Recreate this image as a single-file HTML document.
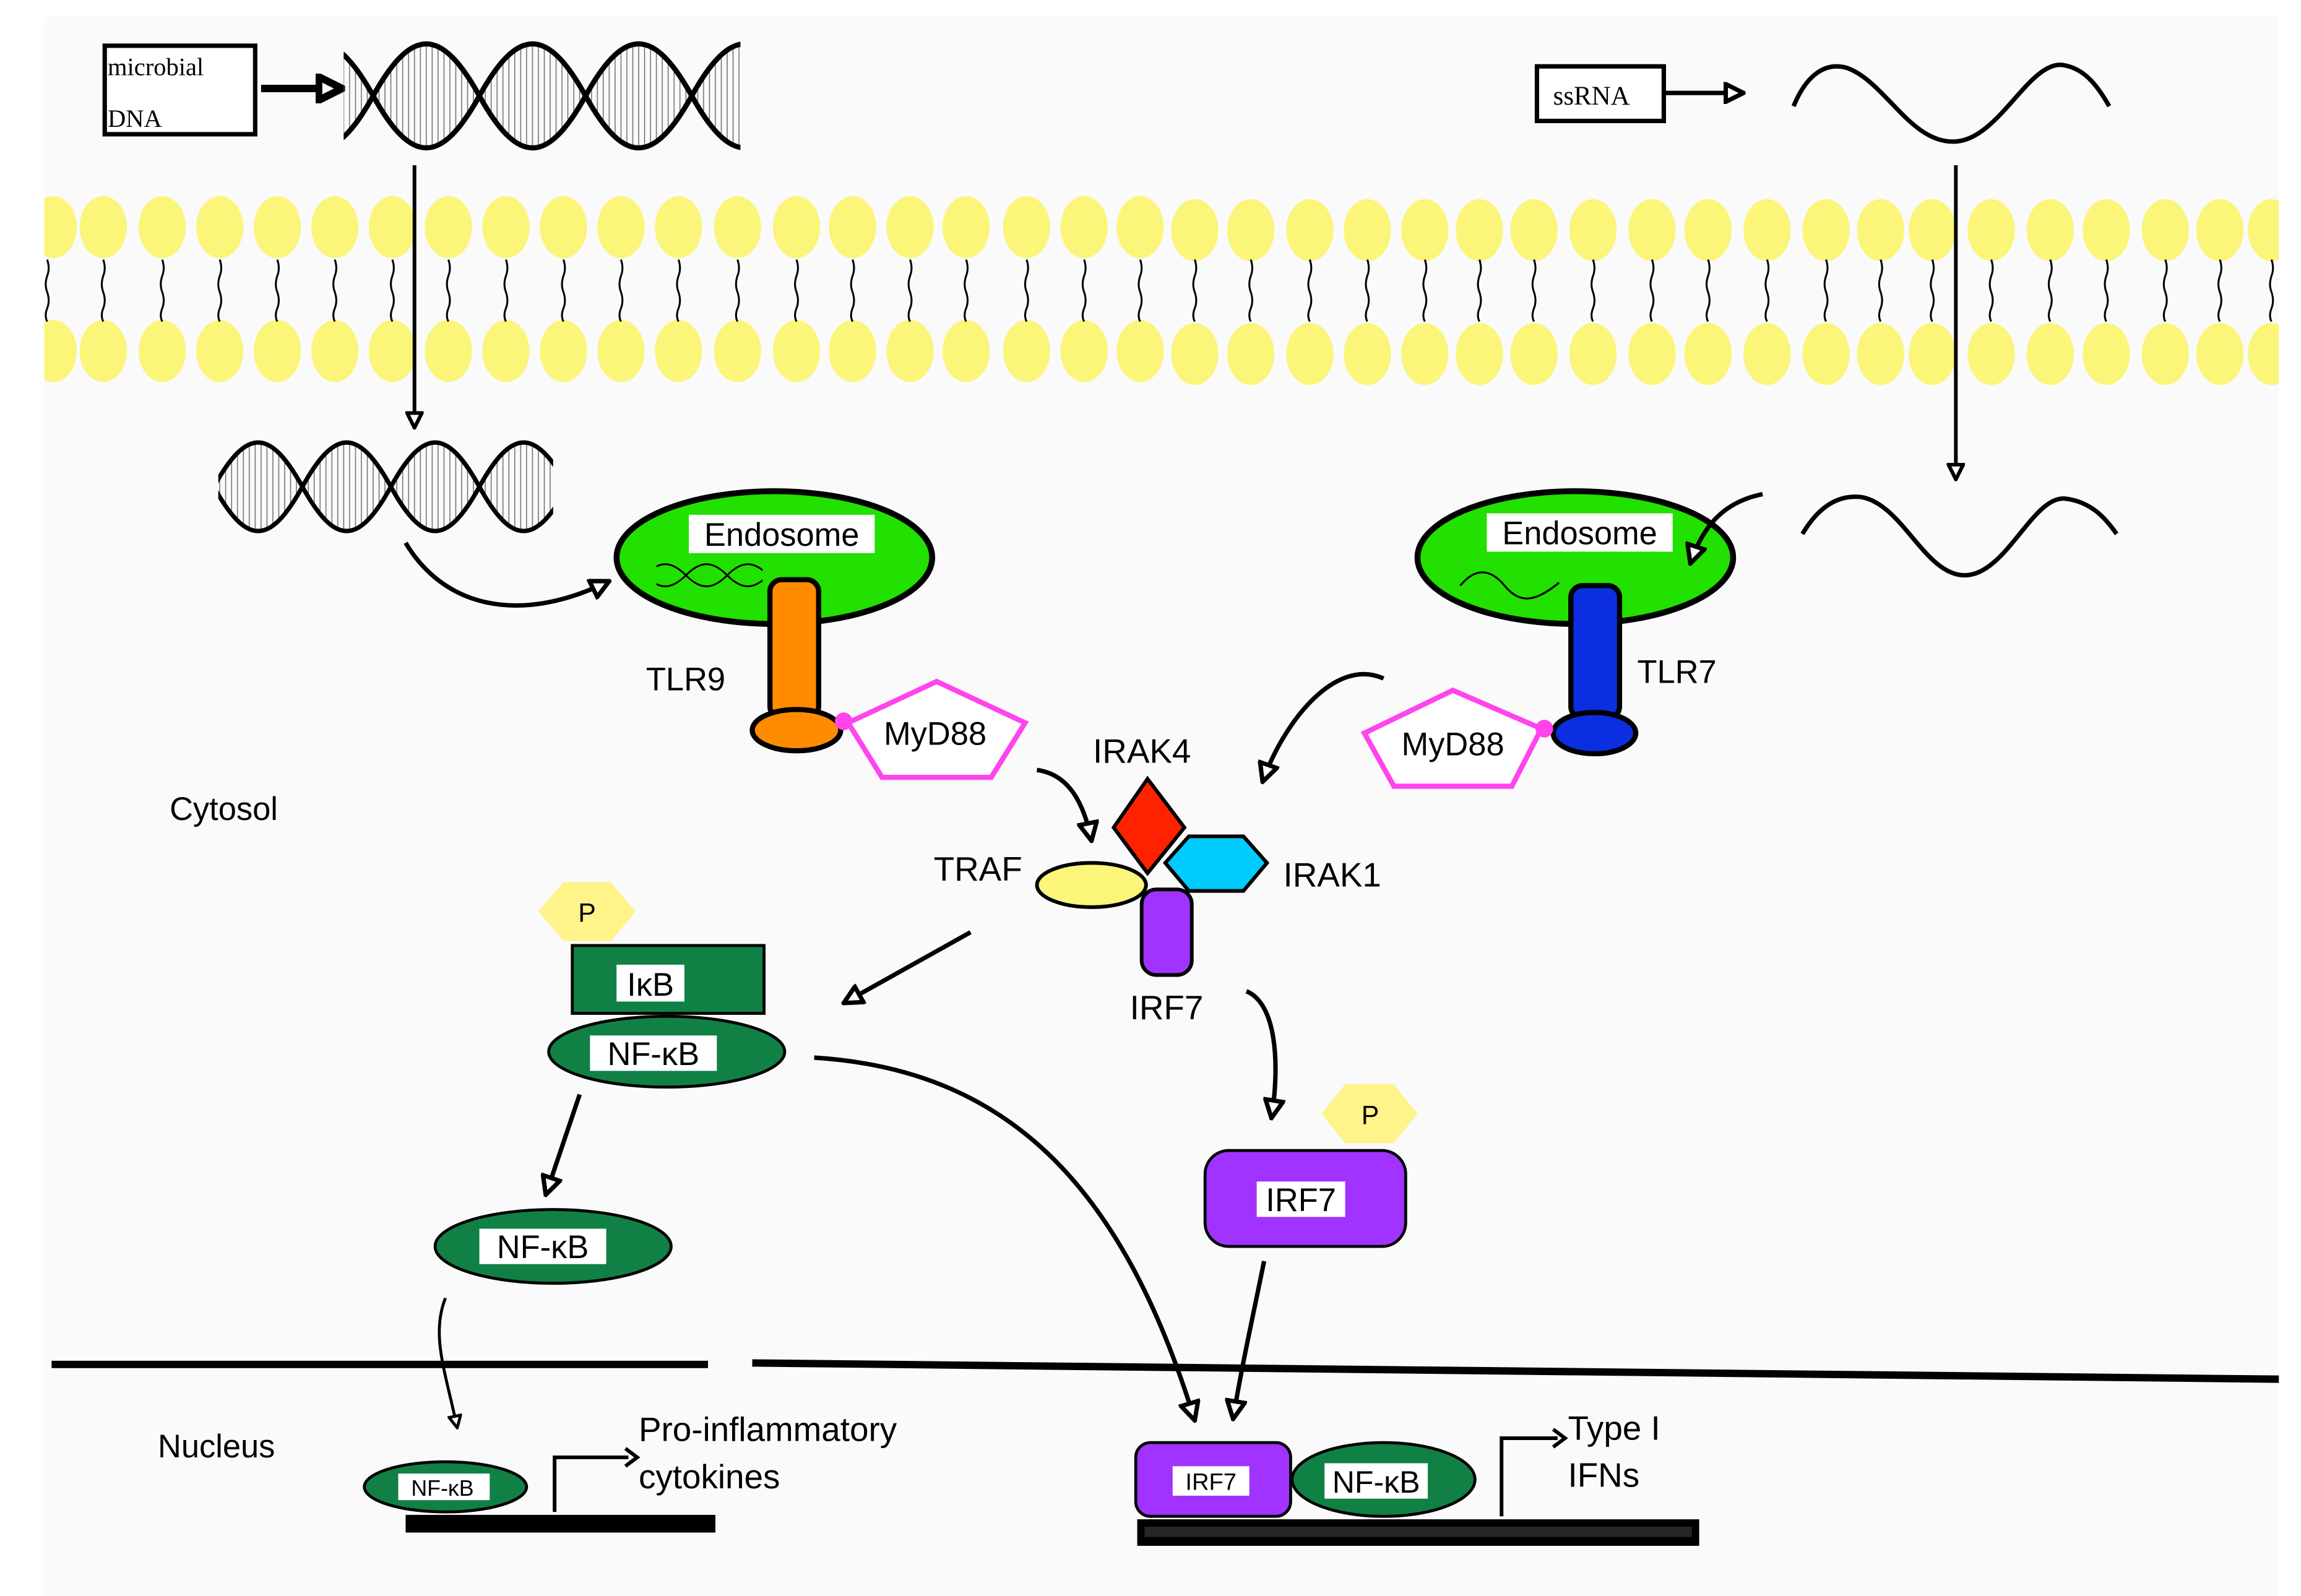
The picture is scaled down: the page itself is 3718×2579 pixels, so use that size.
<!DOCTYPE html>
<html><head><meta charset="utf-8"><style>
html,body{margin:0;padding:0;background:#fff;}
svg{display:block;}
text{font-family:"Liberation Sans",sans-serif;}
</style></head><body>
<svg width="3718" height="2579" viewBox="0 0 1560 1082" preserveAspectRatio="none" xmlns="http://www.w3.org/2000/svg">
<defs>
<pattern id="hatch" width="4" height="10" patternUnits="userSpaceOnUse"><line x1="1" y1="0" x2="1" y2="10" stroke="#666" stroke-width="0.6"/></pattern>
<marker id="oa" viewBox="0 0 10 10" refX="9" refY="5" markerWidth="5" markerHeight="5" orient="auto" markerUnits="strokeWidth"><path d="M1,1 L9,5 L1,9 Z" fill="#fff" stroke="#000" stroke-width="2"/></marker>
<marker id="oa2" viewBox="0 0 10 10" refX="9" refY="5" markerWidth="4" markerHeight="4" orient="auto" markerUnits="strokeWidth"><path d="M1,1 L9,5 L1,9 Z" fill="#fff" stroke="#000" stroke-width="2.5"/></marker>
<clipPath id="c1"><rect x="233" y="25" width="269" height="85"/></clipPath>
<clipPath id="c2"><rect x="148" y="295" width="227" height="70"/></clipPath>
<clipPath id="c3"><rect x="445" y="375" width="72" height="30"/></clipPath>
<clipPath id="cm"><rect x="30" y="120" width="1515" height="150"/></clipPath>
</defs>
<rect x="30" y="11" width="1515" height="1074" fill="#fafafa"/>

<!-- membrane -->
<g clip-path="url(#cm)">
<g fill="#fbf57a">
<g id="row">
<ellipse cx="36" cy="154" rx="16" ry="21"/><ellipse cx="70" cy="154" rx="16" ry="21"/><ellipse cx="110" cy="154" rx="16" ry="21"/><ellipse cx="149" cy="154" rx="16" ry="21"/><ellipse cx="188" cy="154" rx="16" ry="21"/><ellipse cx="227" cy="154" rx="16" ry="21"/><ellipse cx="266" cy="154" rx="16" ry="21"/><ellipse cx="304" cy="154" rx="16" ry="21"/><ellipse cx="343" cy="154" rx="16" ry="21"/><ellipse cx="382" cy="154" rx="16" ry="21"/><ellipse cx="421" cy="154" rx="16" ry="21"/><ellipse cx="460" cy="154" rx="16" ry="21"/><ellipse cx="500" cy="154" rx="16" ry="21"/><ellipse cx="540" cy="154" rx="16" ry="21"/><ellipse cx="578" cy="154" rx="16" ry="21"/><ellipse cx="617" cy="154" rx="16" ry="21"/><ellipse cx="655" cy="154" rx="16" ry="21"/><ellipse cx="696" cy="154" rx="16" ry="21"/><ellipse cx="735" cy="154" rx="16" ry="21"/><ellipse cx="773" cy="154" rx="16" ry="21"/><ellipse cx="810" cy="156" rx="16" ry="21"/><ellipse cx="848" cy="156" rx="16" ry="21"/><ellipse cx="888" cy="156" rx="16" ry="21"/><ellipse cx="927" cy="156" rx="16" ry="21"/><ellipse cx="966" cy="156" rx="16" ry="21"/><ellipse cx="1003" cy="156" rx="16" ry="21"/><ellipse cx="1040" cy="156" rx="16" ry="21"/><ellipse cx="1080" cy="156" rx="16" ry="21"/><ellipse cx="1120" cy="156" rx="16" ry="21"/><ellipse cx="1158" cy="156" rx="16" ry="21"/><ellipse cx="1198" cy="156" rx="16" ry="21"/><ellipse cx="1238" cy="156" rx="16" ry="21"/><ellipse cx="1275" cy="156" rx="16" ry="21"/><ellipse cx="1310" cy="156" rx="16" ry="21"/><ellipse cx="1350" cy="156" rx="16" ry="21"/><ellipse cx="1390" cy="156" rx="16" ry="21"/><ellipse cx="1428" cy="156" rx="16" ry="21"/><ellipse cx="1468" cy="156" rx="16" ry="21"/><ellipse cx="1505" cy="156" rx="16" ry="21"/><ellipse cx="1540" cy="156" rx="16" ry="21"/>
</g>
<use href="#row" transform="translate(0,84)"/>
</g>
<g stroke="#000" stroke-width="1.3" fill="none">
<path id="tl" d="M0,176 q2,6 0,11 q-2,6 0,11 q2,6 0,11 q-2,5 0,9" transform="translate(-100,0)"/>
<use href="#tl" x="132"/><use href="#tl" x="170"/><use href="#tl" x="210"/><use href="#tl" x="249"/><use href="#tl" x="288"/><use href="#tl" x="327"/><use href="#tl" x="366"/><use href="#tl" x="404"/><use href="#tl" x="443"/><use href="#tl" x="482"/><use href="#tl" x="521"/><use href="#tl" x="560"/><use href="#tl" x="600"/><use href="#tl" x="640"/><use href="#tl" x="678"/><use href="#tl" x="717"/><use href="#tl" x="755"/><use href="#tl" x="796"/><use href="#tl" x="835"/><use href="#tl" x="873"/><use href="#tl" x="910"/><use href="#tl" x="948"/><use href="#tl" x="988"/><use href="#tl" x="1027"/><use href="#tl" x="1066"/><use href="#tl" x="1103"/><use href="#tl" x="1140"/><use href="#tl" x="1180"/><use href="#tl" x="1220"/><use href="#tl" x="1258"/><use href="#tl" x="1298"/><use href="#tl" x="1338"/><use href="#tl" x="1375"/><use href="#tl" x="1410"/><use href="#tl" x="1450"/><use href="#tl" x="1490"/><use href="#tl" x="1528"/><use href="#tl" x="1568"/><use href="#tl" x="1605"/><use href="#tl" x="1640"/>
</g>
</g>

<!-- microbial DNA box -->
<rect x="71" y="31" width="102" height="60" fill="#fff" stroke="#000" stroke-width="3"/>
<text x="73" y="51" font-size="17" style="font-family:'Liberation Serif',serif">microbial</text>
<text x="73" y="86" font-size="17" style="font-family:'Liberation Serif',serif">DNA</text>
<line x1="177" y1="60" x2="232" y2="60" stroke="#000" stroke-width="5" marker-end="url(#oa2)"/>

<!-- helix 1 -->
<g clip-path="url(#c1)">
<path d="M181,65 C207,112 227,112 253,65 C279,18 299,18 325,65 C351,112 371,112 397,65 C423,18 443,18 469,65 C495,112 515,112 541,65 C515,18 495,18 469,65 C443,112 423,112 397,65 C371,18 351,18 325,65 C299,112 279,112 253,65 C227,18 207,18 181,65Z" fill="url(#hatch)" fill-rule="evenodd"/>
<path d="M181,65 C207,112 227,112 253,65 C279,18 299,18 325,65 C351,112 371,112 397,65 C423,18 443,18 469,65 C495,112 515,112 541,65" fill="none" stroke="#000" stroke-width="3.5"/>
<path d="M181,65 C207,18 227,18 253,65 C279,112 299,112 325,65 C351,18 371,18 397,65 C423,112 443,112 469,65 C495,18 515,18 541,65" fill="none" stroke="#000" stroke-width="3.5"/>
</g>

<!-- ssRNA -->
<rect x="1042" y="45" width="86" height="37" fill="#fff" stroke="#000" stroke-width="3"/>
<text x="1053" y="71" font-size="18" style="font-family:'Liberation Serif',serif">ssRNA</text>
<line x1="1128" y1="63" x2="1182" y2="63" stroke="#000" stroke-width="3" marker-end="url(#oa)"/>
<path d="M1216,72 C1225,50 1238,42 1252,46 C1278,55 1295,97 1325,96 C1355,95 1375,42 1398,44 C1413,46 1422,58 1430,72" fill="none" stroke="#000" stroke-width="3"/>
<path d="M1222,362 C1232,345 1245,335 1262,337 C1290,342 1305,390 1332,390 C1360,390 1378,336 1400,338 C1418,340 1428,352 1435,362" fill="none" stroke="#000" stroke-width="3"/>

<!-- vertical arrows -->
<line x1="281" y1="112" x2="281" y2="290" stroke="#000" stroke-width="2.5" marker-end="url(#oa)"/>
<line x1="1326" y1="112" x2="1326" y2="325" stroke="#000" stroke-width="2.5" marker-end="url(#oa)"/>

<!-- helix 2 -->
<g clip-path="url(#c2)">
<path d="M145,330 C167,370 183,370 205,330 C227,290 243,290 265,330 C287,370 303,370 325,330 C347,290 363,290 385,330 C363,370 347,370 325,330 C303,290 287,290 265,330 C243,370 227,370 205,330 C183,290 167,290 145,330Z" fill="url(#hatch)" fill-rule="evenodd"/>
<path d="M145,330 C167,370 183,370 205,330 C227,290 243,290 265,330 C287,370 303,370 325,330 C347,290 363,290 385,330" fill="none" stroke="#000" stroke-width="3"/>
<path d="M145,330 C167,290 183,290 205,330 C227,370 243,370 265,330 C287,290 303,290 325,330 C347,370 363,370 385,330" fill="none" stroke="#000" stroke-width="3"/>
</g>

<!-- Left endosome -->
<ellipse cx="525" cy="378" rx="107" ry="45" fill="#22e000" stroke="#000" stroke-width="4"/>
<rect x="467" y="349" width="126" height="26" fill="#fff"/>
<text x="530" y="370" font-size="22" text-anchor="middle">Endosome</text>
<g clip-path="url(#c3)">
<path d="M437,390 C447,400 455,400 465,390 C475,380 483,380 493,390 C503,400 511,400 521,390 M437,390 C447,380 455,380 465,390 C475,400 483,400 493,390 C503,380 511,380 521,390" fill="none" stroke="#000" stroke-width="1.2"/>
</g>
<rect x="522" y="393" width="33" height="94" rx="8" fill="#ff8c00" stroke="#000" stroke-width="3.5"/>
<ellipse cx="540" cy="495" rx="30" ry="14" fill="#ff8c00" stroke="#000" stroke-width="3.5"/>
<text x="438" y="468" font-size="22">TLR9</text>
<polygon points="575,490 635,462 695,490 672,527 598,527" fill="#fff" stroke="#ff44ee" stroke-width="3.5"/>
<circle cx="572" cy="489" r="6" fill="#ff44ee"/>
<text x="634" y="505" font-size="22" text-anchor="middle">MyD88</text>

<!-- Right endosome -->
<ellipse cx="1068" cy="378" rx="107" ry="45" fill="#22e000" stroke="#000" stroke-width="4"/>
<rect x="1008" y="348" width="126" height="26" fill="#fff"/>
<text x="1071" y="369" font-size="22" text-anchor="middle">Endosome</text>
<path d="M990,397 C1000,385 1010,385 1020,397 C1030,409 1040,409 1057,395" fill="none" stroke="#000" stroke-width="1.3"/>
<rect x="1065" y="397" width="33" height="90" rx="8" fill="#0a2ee0" stroke="#000" stroke-width="3.5"/>
<ellipse cx="1081" cy="497" rx="28" ry="14" fill="#0a2ee0" stroke="#000" stroke-width="3.5"/>
<text x="1110" y="463" font-size="22">TLR7</text>
<polygon points="925,497 985,468 1045,494 1025,533 945,533" fill="#fff" stroke="#ff44ee" stroke-width="3.5"/>
<circle cx="1047" cy="494" r="6" fill="#ff44ee"/>
<text x="985" y="512" font-size="22" text-anchor="middle">MyD88</text>

<!-- curved arrows top (drawn on top) -->
<path d="M275,368 C300,410 350,425 413,394" fill="none" stroke="#000" stroke-width="3" marker-end="url(#oa)"/>
<path d="M1195,335 C1170,340 1155,355 1146,382" fill="none" stroke="#000" stroke-width="3" marker-end="url(#oa)"/>
<path d="M938,460 C905,445 870,490 856,530" fill="none" stroke="#000" stroke-width="3" marker-end="url(#oa)"/>
<path d="M703,522 C725,525 735,545 740,570" fill="none" stroke="#000" stroke-width="3" marker-end="url(#oa)"/>

<!-- Complex -->
<text x="741" y="517" font-size="23">IRAK4</text>
<polygon points="778,528 803,561 778,592 755,561" fill="#ff2200" stroke="#000" stroke-width="2.5"/>
<polygon points="790,585 806,567 843,567 859,585 843,604 806,604" fill="#00ccff" stroke="#000" stroke-width="2.5"/>
<ellipse cx="740" cy="600" rx="37" ry="15" fill="#fbf57a" stroke="#000" stroke-width="2.5"/>
<rect x="774" y="603" width="34" height="58" rx="10" fill="#a033ff" stroke="#000" stroke-width="2.5"/>
<text x="633" y="597" font-size="23">TRAF</text>
<text x="870" y="601" font-size="23">IRAK1</text>
<text x="766" y="691" font-size="23">IRF7</text>
<text x="115" y="556" font-size="22">Cytosol</text>
<text x="107" y="988" font-size="22">Nucleus</text>

<!-- left NF-kB pathway -->
<polygon points="365,618 382,598 414,598 431,618 414,638 382,638" fill="#fff38a"/>
<text x="398" y="625" font-size="18" text-anchor="middle">P</text>
<rect x="388" y="641" width="130" height="46" fill="#118045" stroke="#000" stroke-width="2"/>
<rect x="418" y="654" width="46" height="25" fill="#fff"/>
<text x="441" y="675" font-size="22" text-anchor="middle">IκB</text>
<ellipse cx="452" cy="713" rx="80" ry="24" fill="#118045" stroke="#000" stroke-width="2"/>
<rect x="400" y="702" width="86" height="24" fill="#fff"/>
<text x="443" y="722" font-size="22" text-anchor="middle">NF-κB</text>
<line x1="658" y1="632" x2="572" y2="680" stroke="#000" stroke-width="3" marker-end="url(#oa)"/>
<line x1="393" y1="742" x2="370" y2="810" stroke="#000" stroke-width="3" marker-end="url(#oa)"/>
<ellipse cx="375" cy="845" rx="80" ry="25" fill="#118045" stroke="#000" stroke-width="2"/>
<rect x="325" y="833" width="86" height="24" fill="#fff"/>
<text x="368" y="853" font-size="22" text-anchor="middle">NF-κB</text>
<path d="M302,880 C292,905 302,930 310,968" fill="none" stroke="#000" stroke-width="2" marker-end="url(#oa)"/>
<ellipse cx="302" cy="1008" rx="55" ry="17" fill="#118045" stroke="#000" stroke-width="2"/>
<rect x="270" y="999" width="62" height="18" fill="#fff"/>
<text x="300" y="1014" font-size="15" text-anchor="middle">NF-κB</text>
<rect x="275" y="1027" width="210" height="12" fill="#000"/>
<path d="M376,1025 V988 H426" fill="none" stroke="#000" stroke-width="2.5"/>
<path d="M424,982 L432,988 L424,994" fill="none" stroke="#000" stroke-width="2.5"/>
<text x="433" y="977" font-size="23">Pro-inflammatory</text>
<text x="433" y="1009" font-size="23">cytokines</text>

<!-- nuclear membrane -->
<line x1="35" y1="925" x2="480" y2="925" stroke="#000" stroke-width="5"/>
<line x1="510" y1="924" x2="1545" y2="935" stroke="#000" stroke-width="5"/>

<!-- right pathway -->
<path d="M552,717 C680,725 760,800 810,963" fill="none" stroke="#000" stroke-width="3" marker-end="url(#oa)"/>
<path d="M845,672 C865,680 868,720 862,758" fill="none" stroke="#000" stroke-width="3" marker-end="url(#oa)"/>
<polygon points="896,755 912,735 945,735 961,755 945,775 912,775" fill="#fff38a"/>
<text x="929" y="762" font-size="18" text-anchor="middle">P</text>
<rect x="817" y="780" width="136" height="65" rx="16" fill="#a033ff" stroke="#000" stroke-width="2"/>
<rect x="852" y="801" width="60" height="24" fill="#fff"/>
<text x="882" y="821" font-size="22" text-anchor="middle">IRF7</text>
<path d="M857,855 C850,890 842,925 836,962" fill="none" stroke="#000" stroke-width="3" marker-end="url(#oa)"/>
<rect x="770" y="978" width="105" height="50" rx="10" fill="#a033ff" stroke="#000" stroke-width="2"/>
<rect x="795" y="994" width="52" height="20" fill="#fff"/>
<text x="821" y="1010" font-size="16" text-anchor="middle">IRF7</text>
<ellipse cx="938" cy="1003" rx="62" ry="25" fill="#118045" stroke="#000" stroke-width="2"/>
<rect x="898" y="992" width="70" height="24" fill="#fff"/>
<text x="933" y="1012" font-size="21" text-anchor="middle">NF-κB</text>
<rect x="771" y="1030" width="381" height="18" fill="#000"/>
<rect x="776" y="1035" width="371" height="7" fill="#fff" opacity="0.15"/>
<path d="M1018,1028 V975 H1056" fill="none" stroke="#000" stroke-width="2.5"/>
<path d="M1053,969 L1061,975 L1053,981" fill="none" stroke="#000" stroke-width="2.5"/>
<text x="1063" y="976" font-size="23">Type I</text>
<text x="1063" y="1008" font-size="23">IFNs</text>
</svg>
</body></html>
